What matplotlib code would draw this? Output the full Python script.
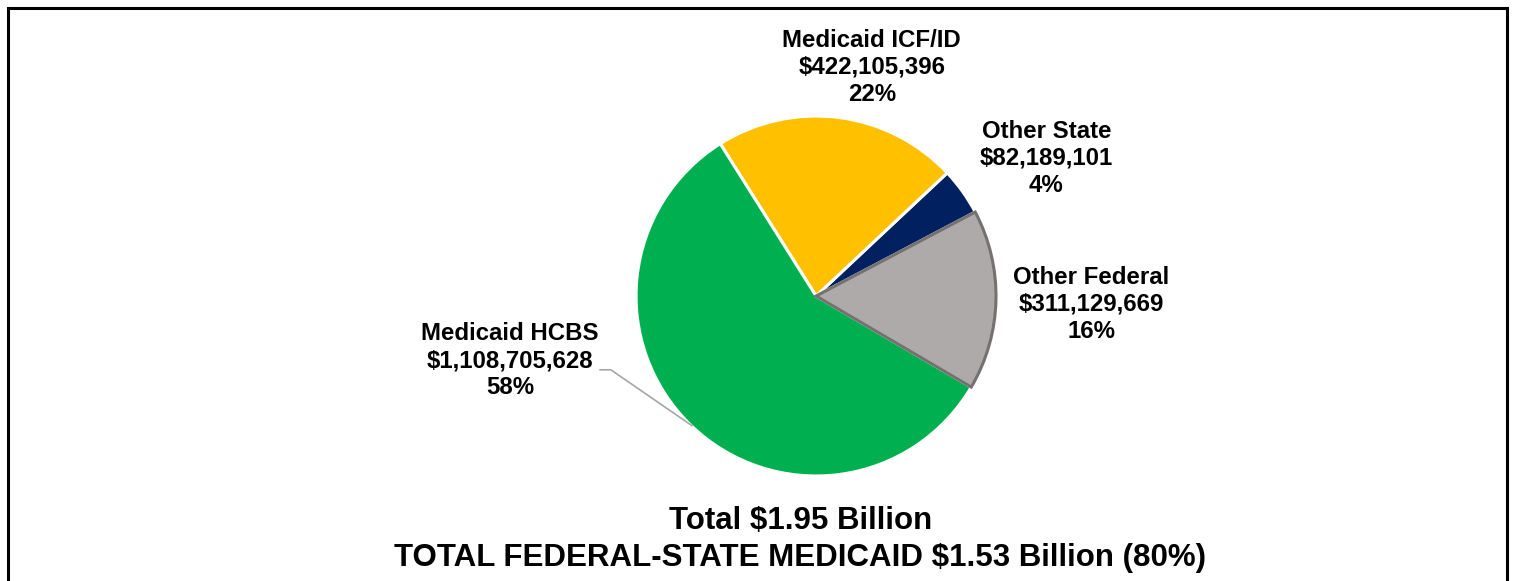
import matplotlib.pyplot as plt
from matplotlib.patches import Rectangle

# slices in counter-clockwise order starting from the lower right
labels = ["Other Federal", "Other State", "Medicaid ICF/ID", "Medicaid HCBS"]
values = [311129669, 82189101, 422105396, 1108705628]
colors = ["#AEAAAA", "#002060", "#FFC000", "#00B050"]
edges = ["#767171", "white", "white", "white"]

total_line = "Total $1.95 Billion"
medicaid_line = "TOTAL FEDERAL-STATE MEDICAID $1.53 Billion (80%)"

plt.rcParams['font.family'] = ['Liberation Sans', 'DejaVu Sans']

fig = plt.figure(figsize=(15.13, 5.81), dpi=100)
ax = fig.add_axes([0.4204, 0.1807, 0.2379, 0.6196])

wedges, _ = ax.pie(values, colors=colors, startangle=-30.4, counterclock=True,
                   wedgeprops=dict(linewidth=2.2))
for w, ec in zip(wedges, edges):
    w.set_edgecolor(ec)
wedges[0].set_zorder(3)
ax.set_aspect("equal")
ax.set_xlim(-1, 1)
ax.set_ylim(-1, 1)

total = sum(values)
label_pos = [(1.53, -0.045), (1.28, 0.765), (0.31, 1.27), (-1.70, -0.36)]
for lab, v, (x, y) in zip(labels, values, label_pos):
    txt = f"{lab}\n${v:,}\n{round(100 * v / total)}%"
    ax.text(x, y, txt, ha="center", va="center", fontsize=17.3, fontweight="bold",
            linespacing=1.22, clip_on=False)

# leader line for Medicaid HCBS
ax.plot([-1.20, -1.14, -0.69], [-0.41, -0.41, -0.72], color="#A6A6A6",
        linewidth=1.2, clip_on=False)

fig.text(0.529, 0.104, total_line, ha="center", va="center", fontsize=22.5,
         fontweight="bold")
fig.text(0.529, 0.039, medicaid_line, ha="center", va="center", fontsize=22.5,
         fontweight="bold")

fig.patches.append(Rectangle((8 / 1513, -0.1), (1507 - 8) / 1513, 1.1 - 8 / 581,
                             transform=fig.transFigure, fill=False,
                             edgecolor="black", linewidth=2.2))

fig.savefig("out.png", dpi=100)
